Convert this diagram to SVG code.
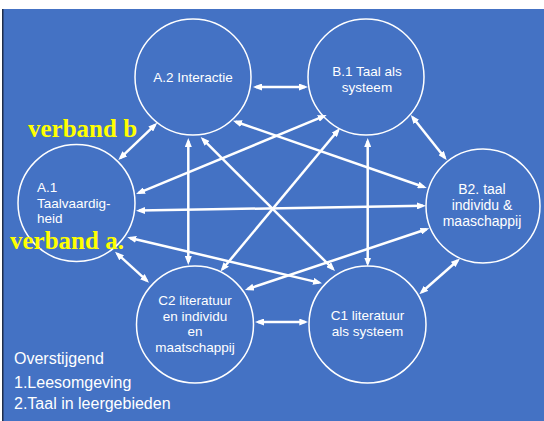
<svg xmlns="http://www.w3.org/2000/svg" width="544" height="421" viewBox="0 0 544 421">
<defs>
<style>
.node circle{fill:none;stroke:#ffffff;stroke-width:1.5}
.node text{font-family:"Liberation Sans",Arial,sans-serif;font-size:13.5px;fill:#ffffff}
.c{text-anchor:middle}
#connectors line{stroke:#ffffff;stroke-width:2.5;marker-start:url(#ah);marker-end:url(#ah)}
.lbl{font-family:"Liberation Serif","Times New Roman",serif;font-weight:bold;font-size:25px;fill:#ffff00}
.note{font-family:"Liberation Sans",Arial,sans-serif;font-size:16px;fill:#ffffff}
</style>
<marker id="ah" markerUnits="userSpaceOnUse" markerWidth="9" markerHeight="7" refX="6" refY="3.5" orient="auto-start-reverse">
<path d="M0,0 L9,3.5 L0,7 z" fill="#ffffff"/>
</marker>
</defs>
<rect x="0" y="0" width="544" height="421" fill="#ffffff"/>
<rect x="3" y="9" width="541" height="412" fill="#4472C4"/>
<rect x="2" y="9" width="1.5" height="412" fill="#1f2d4a"/>

<g id="connectors">
<line x1="256" y1="87" x2="305" y2="87"/>
<line x1="155.1" y1="124.8" x2="120.5" y2="157.9"/>
<line x1="188.3" y1="141" x2="188.3" y2="262"/>
<line x1="202.8" y1="139.1" x2="332.9" y2="268.9"/>
<line x1="235.8" y1="121.7" x2="423.9" y2="187.0"/>
<line x1="323.9" y1="116.1" x2="138.8" y2="192.9"/>
<line x1="338.1" y1="130.3" x2="222.4" y2="269.2"/>
<line x1="367.7" y1="141" x2="367.7" y2="263.5"/>
<line x1="412.6" y1="117.3" x2="444.8" y2="157.7"/>
<line x1="139" y1="210.6" x2="423" y2="205.8"/>
<line x1="130.2" y1="238.0" x2="319.1" y2="282.6"/>
<line x1="117.2" y1="253.7" x2="146.8" y2="280.7"/>
<line x1="258" y1="322" x2="305.3" y2="322"/>
<line x1="247.8" y1="289.0" x2="426.5" y2="229.3"/>
<line x1="421.6" y1="292.3" x2="457.7" y2="260.5"/>
</g>

<g id="nodeA2" class="node">
<circle cx="193" cy="77" r="58"/>
<text class="c" x="193" y="82">A.2 Interactie</text>
</g>
<g id="nodeB1" class="node">
<circle cx="366" cy="77" r="58"/>
<text class="c" x="367" y="76">B.1 Taal als</text>
<text class="c" x="367" y="91.5">systeem</text>
</g>
<g id="nodeA1" class="node">
<circle cx="76.5" cy="203" r="58.5"/>
<text x="37" y="192">A.1</text>
<text x="37" y="207.5">Taalvaardig-</text>
<text x="37" y="223">heid</text>
</g>
<g id="nodeB2" class="node">
<circle cx="483" cy="206" r="57"/>
<text class="c" x="482" y="194" style="font-size:14px">B2. taal</text>
<text class="c" x="482" y="210" style="font-size:14px">individu &amp;</text>
<text class="c" x="482" y="226" style="font-size:14px">maaschappij</text>
</g>
<g id="nodeC2" class="node">
<circle cx="195" cy="324.5" r="58.5"/>
<text class="c" x="195" y="305">C2 literatuur</text>
<text class="c" x="195" y="320.5">en individu</text>
<text class="c" x="195" y="336">en</text>
<text class="c" x="195" y="351.5">maatschappij</text>
</g>
<g id="nodeC1" class="node">
<circle cx="367.5" cy="324.5" r="58.5"/>
<text class="c" x="367.5" y="320">C1 literatuur</text>
<text class="c" x="367.5" y="335.5">als systeem</text>
</g>

<text class="lbl" x="28" y="137">verband b</text>
<text class="lbl" x="10" y="249">verband a.</text>

<text class="note" x="14" y="364">Overstijgend</text>
<text class="note" x="14" y="387.5">1.Leesomgeving</text>
<text class="note" x="14" y="409">2.Taal in leergebieden</text>
</svg>
